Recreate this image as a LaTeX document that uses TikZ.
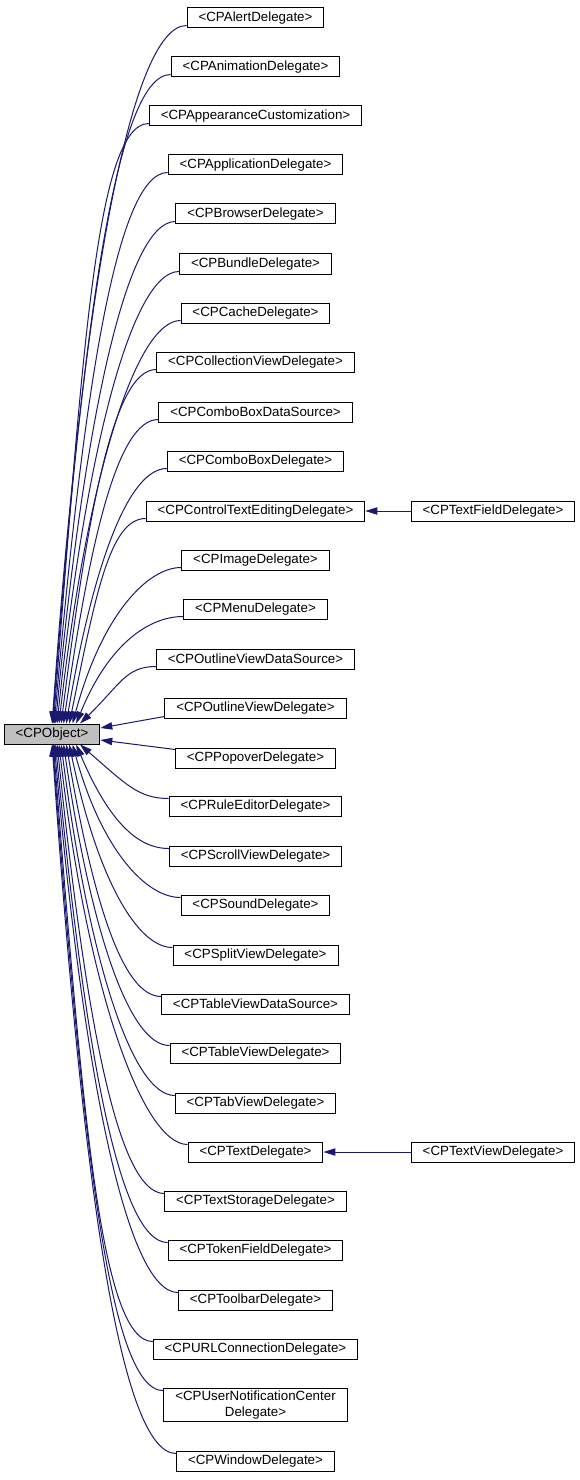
\documentclass[tikz,border=0pt]{standalone}
\usepackage{fontspec}
\setmainfont{Liberation Sans}
\usetikzlibrary{arrows.meta}
\definecolor{edgeblue}{HTML}{191970}
\definecolor{rootgray}{HTML}{BFBFBF}

\begin{document}
\begin{tikzpicture}[x=0.75pt, y=-0.75pt,
    every node/.style={font=\fontsize{10}{12}\selectfont},
    cls/.style={draw=black, line width=0.75pt, rectangle, fill=white, inner xsep=8.6pt, inner ysep=2pt, minimum height=15pt, align=center},
    edge/.style={draw=edgeblue, line width=0.75pt, -{Triangle[length=9pt, width=5.5pt]}}]
  \useasboundingbox (0,0) rectangle (580,1480);

  % root class
  \node[cls, fill=rootgray] (obj) at (52,734) {<CPObject>};

  % protocols
  \node[cls] (alert) at (255.5,18) {<CPAlertDelegate>};
  \node[cls] (anim) at (255.5,67) {<CPAnimationDelegate>};
  \node[cls] (appear) at (255.5,116) {<CPAppearanceCustomization>};
  \node[cls] (app) at (255.5,165) {<CPApplicationDelegate>};
  \node[cls] (browser) at (255.5,214) {<CPBrowserDelegate>};
  \node[cls] (bundle) at (255.5,264) {<CPBundleDelegate>};
  \node[cls] (cache) at (255.5,313) {<CPCacheDelegate>};
  \node[cls] (collview) at (255.5,362) {<CPCollectionViewDelegate>};
  \node[cls] (combods) at (255.5,412) {<CPComboBoxDataSource>};
  \node[cls] (combod) at (255.5,461) {<CPComboBoxDelegate>};
  \node[cls] (ctrltext) at (255.5,511) {<CPControlTextEditingDelegate>};
  \node[cls] (image) at (255.5,560) {<CPImageDelegate>};
  \node[cls] (menu) at (255.5,609) {<CPMenuDelegate>};
  \node[cls] (outlineds) at (255.5,659) {<CPOutlineViewDataSource>};
  \node[cls] (outlined) at (255.5,708) {<CPOutlineViewDelegate>};
  \node[cls] (popover) at (255.5,758) {<CPPopoverDelegate>};
  \node[cls] (rule) at (255.5,806) {<CPRuleEditorDelegate>};
  \node[cls] (scroll) at (255.5,856) {<CPScrollViewDelegate>};
  \node[cls] (sound) at (255.5,905) {<CPSoundDelegate>};
  \node[cls] (split) at (255.5,955) {<CPSplitViewDelegate>};
  \node[cls] (tableds) at (255.5,1004) {<CPTableViewDataSource>};
  \node[cls] (tabled) at (255.5,1053) {<CPTableViewDelegate>};
  \node[cls] (tab) at (255.5,1103) {<CPTabViewDelegate>};
  \node[cls] (text) at (255.5,1152) {<CPTextDelegate>};
  \node[cls] (textstorage) at (255.5,1201) {<CPTextStorageDelegate>};
  \node[cls] (token) at (255.5,1250) {<CPTokenFieldDelegate>};
  \node[cls] (toolbar) at (255.5,1300) {<CPToolbarDelegate>};
  \node[cls] (url) at (255.5,1349) {<CPURLConnectionDelegate>};
  \node[cls] (usernotif) at (255.5,1405) {<CPUserNotificationCenter\\Delegate>};
  \node[cls] (window) at (255.5,1461) {<CPWindowDelegate>};

  % second level
  \node[cls] (textfield) at (493,511) {<CPTextFieldDelegate>};
  \node[cls] (textview) at (493,1152) {<CPTextViewDelegate>};

  % edges into the top of CPObject
  \foreach \n/\y [count=\i] in {alert/18, anim/67, appear/116, app/165, browser/214, bundle/264, cache/313,
      collview/362, combods/412, combod/461, ctrltext/511, image/560, menu/609, outlineds/659}{
    \pgfmathsetmacro\tx{28*(\i/14)^2}
    \pgfmathsetmacro\th{atan2(723-(\y+35), 0.6*(78-\tx))}
    \pgfmathsetmacro\od{22.5+22.5*(1-\i/14)}
    \draw[edge] ([shift={(0,-3)}]\n.south west) to[out=180, in=\th, out distance=\od pt, in looseness=1.5] ([shift={(\tx,0)}]obj.north);
  }

  % edges into the bottom of CPObject
  \foreach \n/\y [count=\i] in {rule/806, scroll/856, sound/905, split/955, tableds/1004, tabled/1053, tab/1103,
      text/1152, textstorage/1201, token/1250, toolbar/1300, url/1349, usernotif/1395, window/1461}{
    \pgfmathsetmacro\tx{28*((15-\i)/14)^2}
    \pgfmathsetmacro\th{-atan2((\y-35)-745, 0.6*(78-\tx))}
    \pgfmathsetmacro\od{22.5+22.5*(\i-1)/14}
    \draw[edge] ([shift={(0,3)}]\n.north west) to[out=180, in=\th, out distance=\od pt, in looseness=1.5] ([shift={(\tx,0)}]obj.south);
  }

  % edges into the side of CPObject
  \draw[edge] ([shift={(0,-2)}]outlined.south west) -- ([shift={(0,-6)}]obj.east);
  \draw[edge] ([shift={(0,2)}]popover.north west) -- ([shift={(0,6)}]obj.east);

  \draw[edge] (textfield) -- (ctrltext);
  \draw[edge] (textview) -- (text);
\end{tikzpicture}
\end{document}
